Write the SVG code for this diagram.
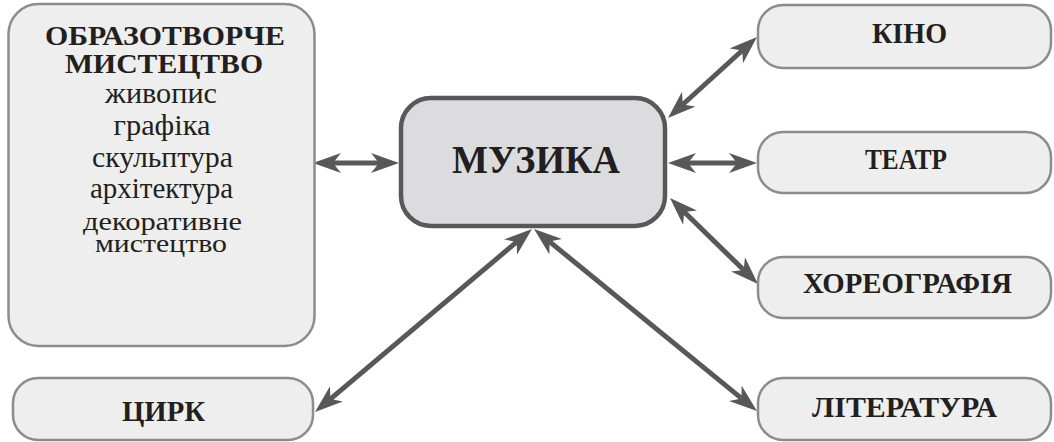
<svg xmlns="http://www.w3.org/2000/svg" width="1054" height="442" viewBox="0 0 1054 442">
<style>
.box{fill:#eeeeee;stroke:#8c8c8c;stroke-width:2.5}
.main{fill:#dcdcde;stroke:#58585a;stroke-width:4.5}
text{font-family:'Liberation Serif','Times New Roman',serif;fill:#231f20;text-anchor:middle}
.b{font-weight:bold;font-size:29px}
.h{font-weight:bold;font-size:27px}
.r{font-size:29px}
.s{font-size:26px}
.con{stroke:#58585a;stroke-width:5;fill:none;marker-start:url(#ah);marker-end:url(#ah)}
</style>
<defs>
<marker id="ah" viewBox="0 0 28 20" refX="8" refY="10" markerWidth="28" markerHeight="20" markerUnits="userSpaceOnUse" orient="auto-start-reverse">
<path d="M0,0 L28,10 L0,20 L8,10 z" fill="#58585a"/>
</marker>
</defs>
<g id="connectors">
<line class="con" x1="333" y1="163" x2="379" y2="163"/>
<line class="con" x1="682.8" y1="104.5" x2="742.2" y2="50.5"/>
<line class="con" x1="688" y1="163" x2="737" y2="163"/>
<line class="con" x1="684.3" y1="212" x2="743.7" y2="270"/>
<line class="con" x1="549.5" y1="241.6" x2="741.5" y2="398.4"/>
<line class="con" x1="516.7" y1="241.9" x2="330.3" y2="399.1"/>
</g>
<g id="node-obrazotvorche">
<rect class="box" x="8.5" y="4" width="306" height="342" rx="30"/>
<text class="h" x="165" y="45" textLength="240" lengthAdjust="spacingAndGlyphs">ОБРАЗОТВОРЧЕ</text>
<text class="h" x="164" y="73" textLength="198" lengthAdjust="spacingAndGlyphs">МИСТЕЦТВО</text>
<text class="r" x="161" y="103" textLength="112" lengthAdjust="spacingAndGlyphs">живопис</text>
<text class="r" x="162" y="135" textLength="97" lengthAdjust="spacingAndGlyphs">графіка</text>
<text class="r" x="162.5" y="167" textLength="141" lengthAdjust="spacingAndGlyphs">скульптура</text>
<text class="r" x="161.5" y="198" textLength="143" lengthAdjust="spacingAndGlyphs">архітектура</text>
<text class="s" x="162.5" y="230" textLength="159" lengthAdjust="spacingAndGlyphs">декоративне</text>
<text class="s" x="161" y="252" textLength="132" lengthAdjust="spacingAndGlyphs">мистецтво</text>
</g>
<g id="node-muzyka">
<rect class="main" x="401" y="98" width="264" height="128" rx="30"/>
<text class="b" x="536" y="173" style="font-size:40px" textLength="168" lengthAdjust="spacingAndGlyphs">МУЗИКА</text>
</g>
<g id="node-kino">
<rect class="box" x="758" y="5" width="293" height="63" rx="25"/>
<text class="b" x="909.5" y="43" textLength="75" lengthAdjust="spacingAndGlyphs">КІНО</text>
</g>
<g id="node-teatr">
<rect class="box" x="758" y="132" width="293" height="61" rx="25"/>
<text class="b" x="906" y="169" textLength="82" lengthAdjust="spacingAndGlyphs">ТЕАТР</text>
</g>
<g id="node-khoreohrafiia">
<rect class="box" x="758" y="257" width="293" height="61" rx="25"/>
<text class="b" x="907.5" y="293" textLength="209" lengthAdjust="spacingAndGlyphs">ХОРЕОГРАФІЯ</text>
</g>
<g id="node-literatura">
<rect class="box" x="758" y="378" width="293" height="62" rx="25"/>
<text class="b" x="904.5" y="417" textLength="185" lengthAdjust="spacingAndGlyphs">ЛІТЕРАТУРА</text>
</g>
<g id="node-tsyrk">
<rect class="box" x="13" y="378" width="300" height="62" rx="25"/>
<text class="b" x="163.5" y="421" textLength="83" lengthAdjust="spacingAndGlyphs">ЦИРК</text>
</g>
</svg>
